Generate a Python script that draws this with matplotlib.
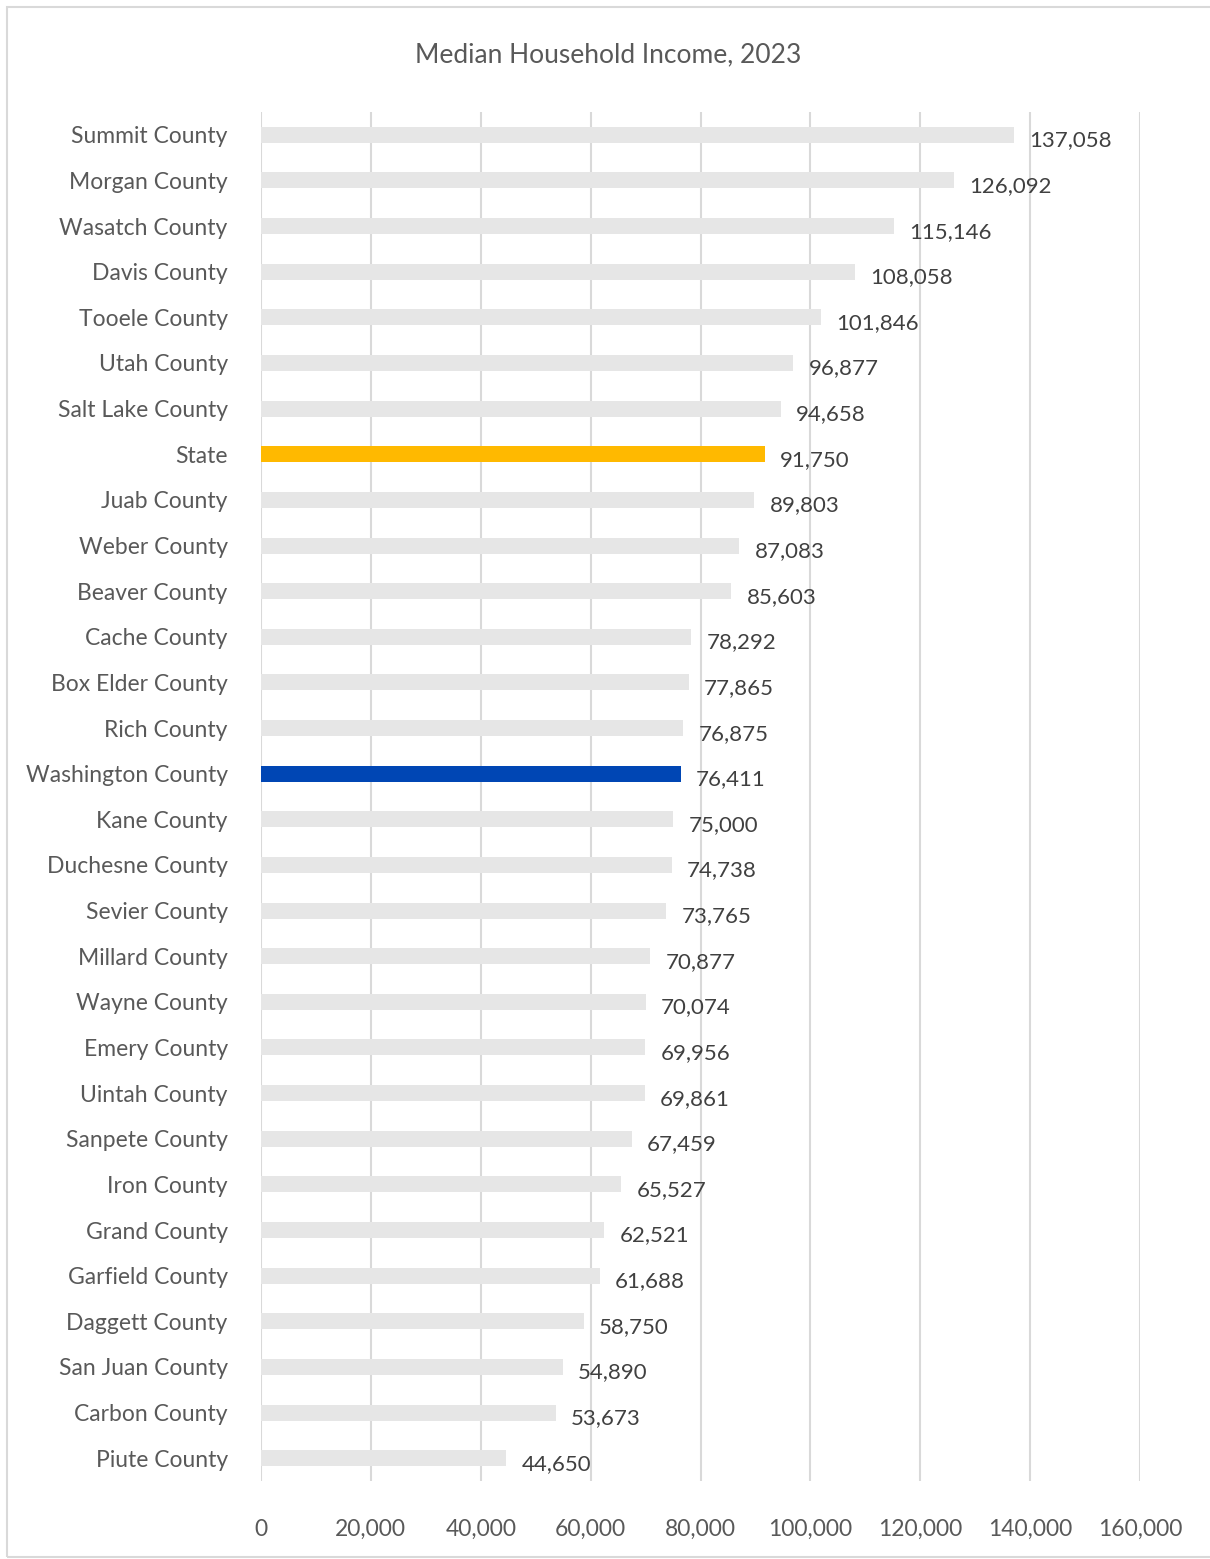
import matplotlib
matplotlib.use("Agg")
import matplotlib.pyplot as plt
from matplotlib.patches import Rectangle
from matplotlib.ticker import FuncFormatter

plt.rcParams['font.family'] = ['Lato', 'DejaVu Sans']

counties = ['Summit County', 'Morgan County', 'Wasatch County', 'Davis County',
            'Tooele County', 'Utah County', 'Salt Lake County', 'State',
            'Juab County', 'Weber County', 'Beaver County', 'Cache County',
            'Box Elder County', 'Rich County', 'Washington County', 'Kane County',
            'Duchesne County', 'Sevier County', 'Millard County', 'Wayne County',
            'Emery County', 'Uintah County', 'Sanpete County', 'Iron County',
            'Grand County', 'Garfield County', 'Daggett County', 'San Juan County',
            'Carbon County', 'Piute County']
income = [137058, 126092, 115146, 108058, 101846, 96877, 94658, 91750,
          89803, 87083, 85603, 78292, 77865, 76875, 76411, 75000,
          74738, 73765, 70877, 70074, 69956, 69861, 67459, 65527,
          62521, 61688, 58750, 54890, 53673, 44650]
x_ticks = [0, 20000, 40000, 60000, 80000, 100000, 120000, 140000, 160000]

GRAY = '#e6e6e6'
colors = []
for name in counties:
    if name == 'State':
        colors.append('#ffb900')
    elif name == 'Washington County':
        colors.append('#0046b4')
    else:
        colors.append(GRAY)

fig = plt.figure(figsize=(12.1, 15.59), dpi=100)
ax = fig.add_axes([261 / 1210, 1 - 1481 / 1559, 879 / 1210, (1481 - 112) / 1559])

pos = list(range(len(counties)))
ax.barh(pos, income, height=0.35, color=colors, zorder=2)
for y, v in zip(pos, income):
    ax.annotate(f'{v:,}', (v, y), xytext=(11, -4), textcoords='offset points',
                ha='left', va='center', fontsize=16, color='#404040')

ax.set_xlim(0, 160000)
ax.set_ylim(len(counties) - 0.5, -0.5)
ax.set_yticks(pos)
ax.set_yticklabels(counties, fontsize=16.5)
ax.set_xticks(x_ticks)
ax.xaxis.set_major_formatter(FuncFormatter(lambda v, p: f'{int(v):,}'))
ax.grid(axis='x', color='#d9d9d9', linewidth=1.5, zorder=1)
ax.set_axisbelow(True)
for s in ax.spines.values():
    s.set_visible(False)
ax.tick_params(axis='both', length=0, colors='#595959')
ax.tick_params(axis='x', labelsize=16.5, pad=27)
ax.tick_params(axis='y', pad=24)

fig.text(0.503, 1 - 55 / 1559, 'Median Household Income, 2023', ha='center',
         va='center', fontsize=19, color='#595959')

fig.patches.append(Rectangle((7 / 1210, 2 / 1559), 1210, (1559 - 9) / 1559,
                             transform=fig.transFigure, fill=False,
                             edgecolor='#d9d9d9', linewidth=1.5))

fig.savefig('out.png', dpi=100, facecolor='white')
